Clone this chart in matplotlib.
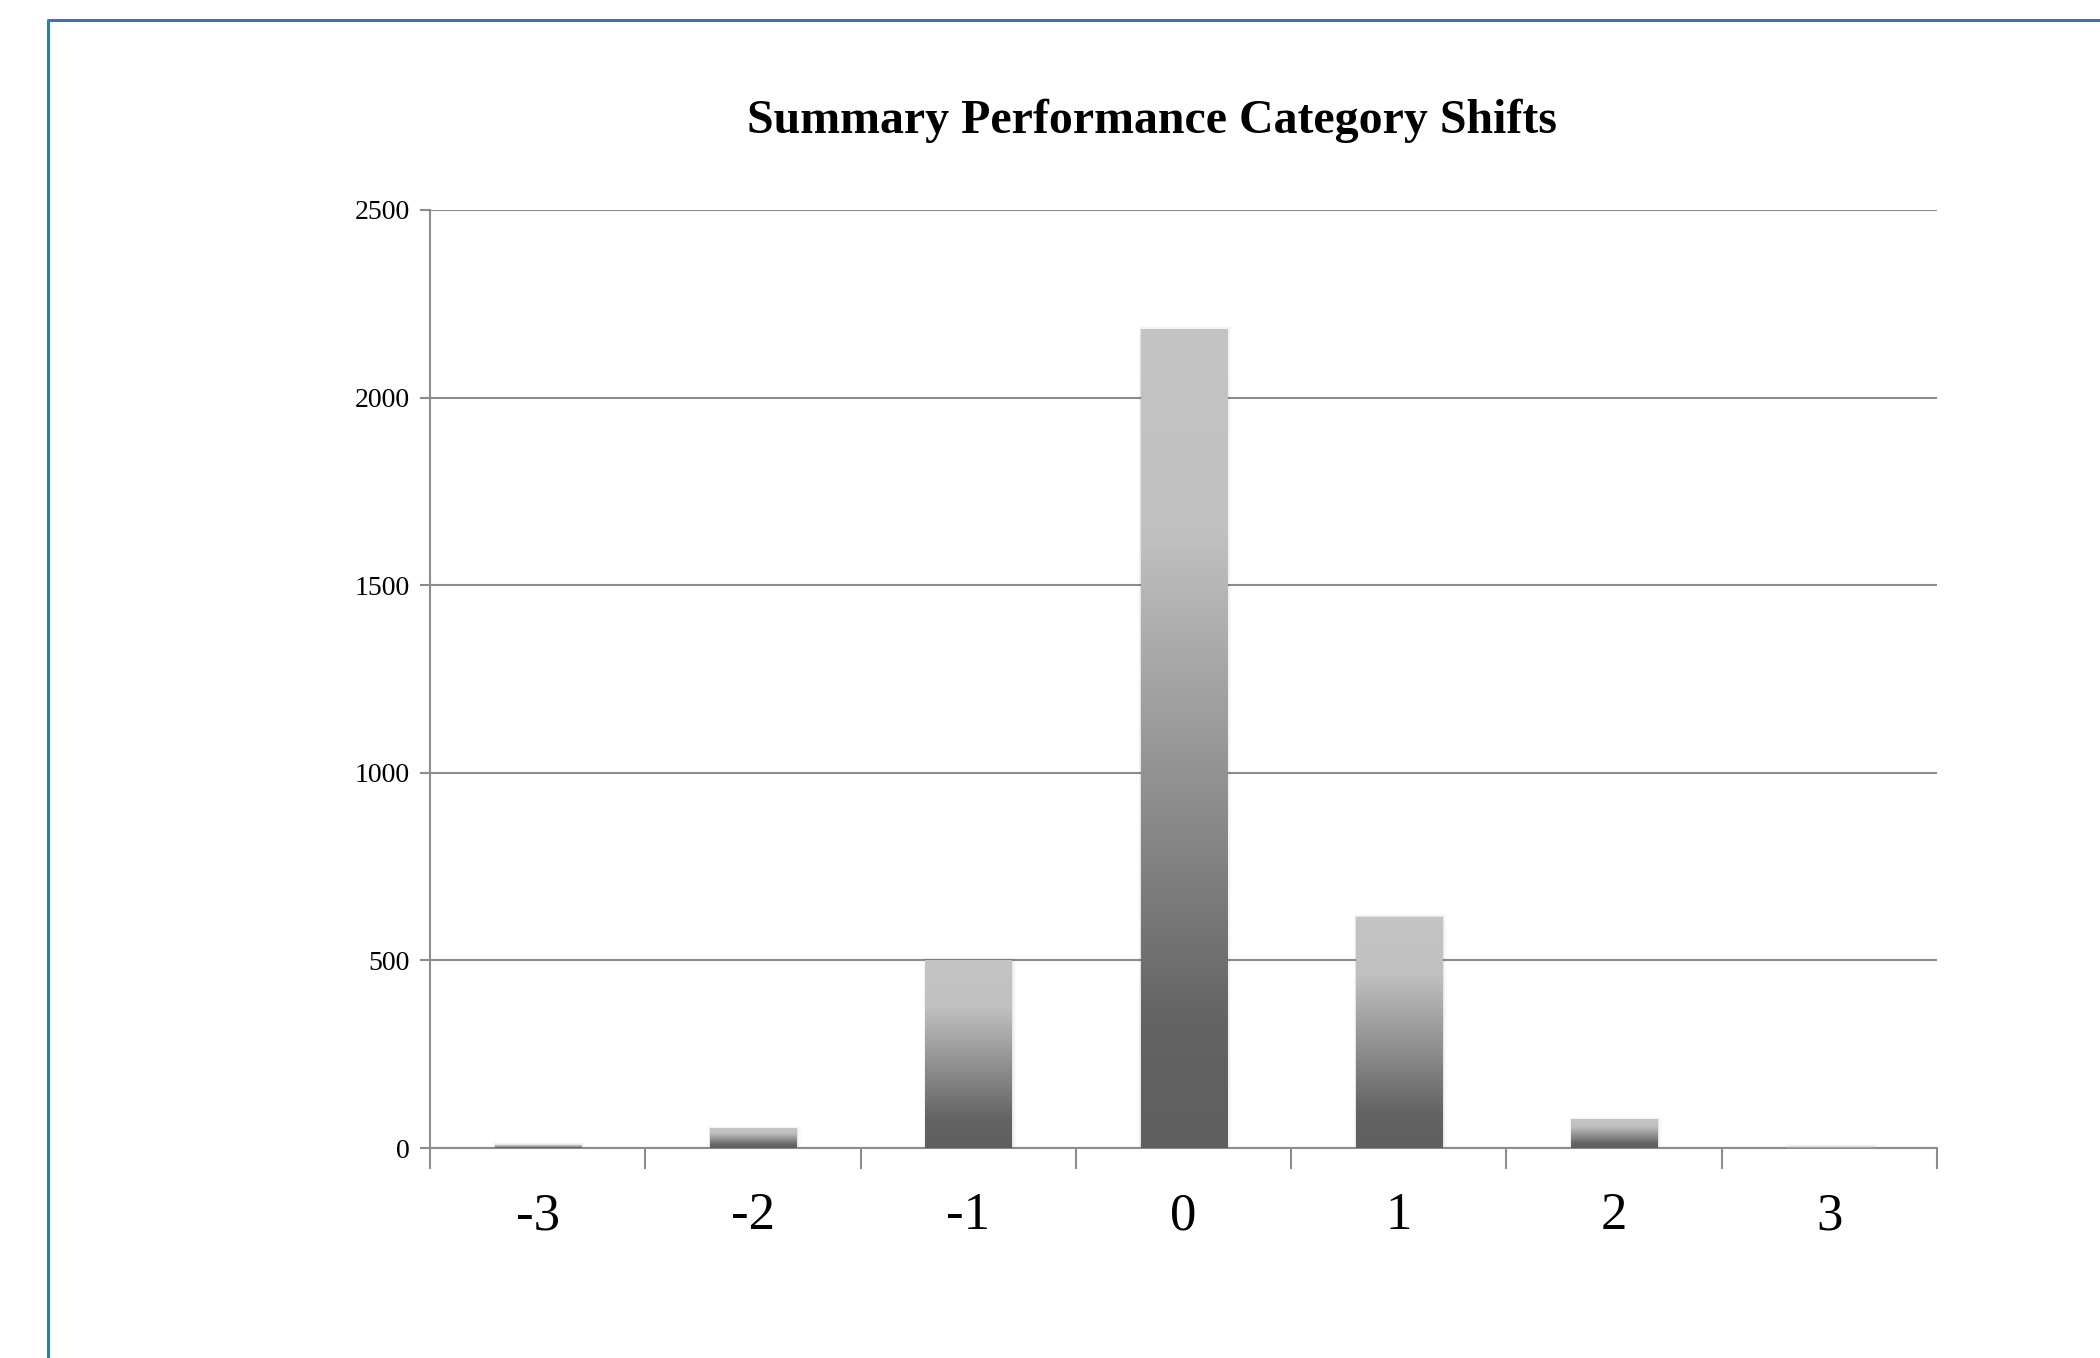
import numpy as np
import matplotlib
matplotlib.use("Agg")
import matplotlib.pyplot as plt
from matplotlib.colors import LinearSegmentedColormap
from matplotlib.lines import Line2D

# donnees
categories = ["-3", "-2", "-1", "0", "1", "2", "3"]
counts = [7, 51, 500, 2181, 615, 75, 2]
yticks = [0, 500, 1000, 1500, 2000, 2500]

plt.rcParams["font.family"] = ["Liberation Serif", "DejaVu Serif"]

fig = plt.figure(figsize=(21, 13.58), dpi=100)
ax = fig.add_axes([0.2048, 0.1546, 0.7176, 0.6908])

# degrade du bas (fonce) vers le haut (clair)
cmap = LinearSegmentedColormap.from_list(
    "barres", [(0.0, "#5f5f5f"), (0.15, "#636363"), (0.75, "#c0c0c0"), (1.0, "#c4c4c4")])
grad = np.linspace(0, 1, 256).reshape(-1, 1)

x = np.arange(len(categories))
width = 0.40
for xi, h in zip(x, counts):
    # petite ombre douce
    for k, a in enumerate([0.05, 0.03, 0.015]):
        d = 0.005 * (k + 1)
        ax.add_patch(plt.Rectangle((xi - width / 2 - d / 2, 0), width + 2 * d, h + 3 * (k + 1),
                                   facecolor="black", alpha=a, lw=0, zorder=2))
    ax.imshow(grad, cmap=cmap, origin="lower", aspect="auto",
              extent=[xi - width / 2, xi + width / 2, 0, h], zorder=3)

ax.set_xlim(-0.5, len(categories) - 0.5)
ax.set_ylim(0, 2500)

gris = "#8c8c8c"
ax.set_yticks(yticks)
ax.set_yticklabels([str(v) for v in yticks], fontsize=20)
ax.yaxis.grid(True, color=gris, lw=1.5, zorder=1)
ax.set_axisbelow(True)

ax.set_xticks(x)
ax.set_xticklabels(categories, fontsize=38)
ax.set_xticks(np.arange(-0.5, len(categories)), minor=True)
ax.tick_params(axis="x", which="major", length=0, pad=32)
ax.tick_params(axis="x", which="minor", length=15, width=1.5, color=gris)
ax.tick_params(axis="y", length=7, width=1.5, color=gris, pad=7.5)

for s in ["top", "right"]:
    ax.spines[s].set_visible(False)
for s in ["left", "bottom"]:
    ax.spines[s].set_color(gris)
    ax.spines[s].set_linewidth(1.5)

fig.text(0.5486, 0.911, "Summary Performance Category Shifts", ha="center", va="center",
         fontsize=34.5, fontweight="bold")

# cadre bleu
fig.add_artist(Line2D([48 / 2100, 48 / 2100, 1.0], [0.0, 1 - 19.5 / 1358, 1 - 19.5 / 1358],
                      color="#2e7ea0", lw=2.2, transform=fig.transFigure))

fig.savefig("out.png", dpi=100)
